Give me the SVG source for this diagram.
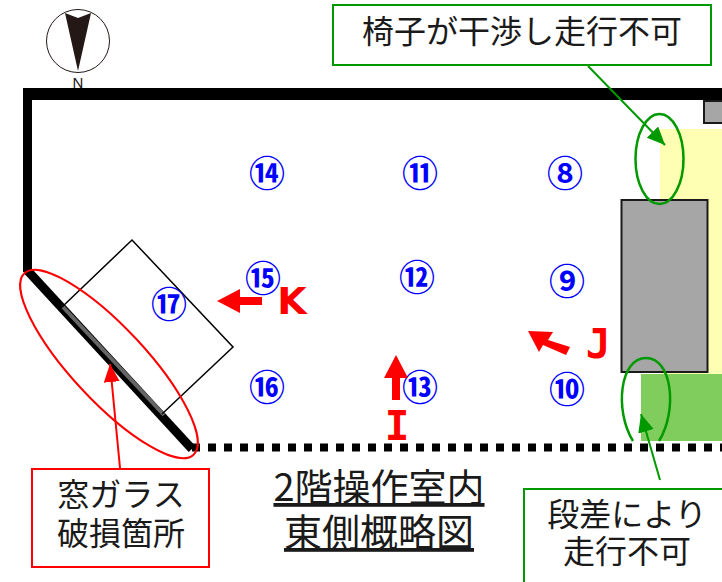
<svg xmlns="http://www.w3.org/2000/svg" width="722" height="582" viewBox="0 0 722 582">
<style>
text{font-family:"Noto Sans CJK JP","Noto Sans",sans-serif;text-anchor:middle}
.n{font-size:36px;font-weight:700;fill:#0000ff}
.t{font-size:32px;fill:#1a1a1a}
.v{font-size:38px;font-weight:700;fill:#ff0000;font-family:"DejaVu Sans",sans-serif}
.m{font-size:41px;font-family:"DejaVu Sans Mono",monospace}
.g{fill:#fff;stroke:#009900;stroke-width:2}
.r{fill:#fff;stroke:#ff0000;stroke-width:2}
.ge{fill:none;stroke:#009900;stroke-width:2.5}
</style>
<defs>
<marker id="ag" markerUnits="userSpaceOnUse" markerWidth="20" markerHeight="20" refX="18" refY="8" orient="auto"><path d="M0 0L18 8L0 16Z" fill="#009900"/></marker>
<marker id="ar" markerUnits="userSpaceOnUse" markerWidth="20" markerHeight="20" refX="18" refY="8" orient="auto"><path d="M0 0L18 8L0 16Z" fill="#ff0000"/></marker>
</defs>
<g id="floor">
<rect x="660" y="129" width="62" height="245" fill="#ffffb3"/>
<rect x="641" y="374" width="81" height="67" fill="#80cc5c"/>
<rect x="621.500" y="200" width="86" height="172" fill="#a6a6a6" stroke="#1a1a1a" stroke-width="2"/>
<rect x="704" y="101" width="20" height="22" fill="#a6a6a6" stroke="#1a1a1a" stroke-width="2"/>
</g>
<g id="walls" fill="none" stroke="#000">
<path d="M27.500 272V88" stroke-width="9"/>
<path d="M23 94H722" stroke-width="12"/>
<path d="M27 270L192 449" stroke-width="9"/>
<path d="M192 447.500H722" stroke-width="8" stroke-dasharray="8 8"/>
<path d="M63 307L164 415" stroke="#666" stroke-width="4"/>
</g>
<g id="n17">
<path d="M62 307L132 240L233 347L162 414" fill="none" stroke="#000" stroke-width="1.500"/>
<text class="n" x="169" y="318">⑰</text>
</g>
<g id="north">
<circle cx="78" cy="41" r="31.500" fill="#fff" stroke="#231815" stroke-width="1"/>
<path d="M65 13L78 18L91 13L78 71Z" fill="#231815"/>
<text x="78" y="88" style="font-size:15px;font-family:'Liberation Sans',sans-serif;fill:#231815">N</text>
</g>
<g id="n14"><text class="n" x="267" y="187">⑭</text></g>
<g id="n11"><text class="n" x="420" y="187">⑪</text></g>
<g id="n8"><text class="n" x="565" y="187">⑧</text></g>
<g id="n15"><text class="n" x="263" y="292">⑮</text></g>
<g id="n12"><text class="n" x="417" y="291">⑫</text></g>
<g id="n9"><text class="n" x="567" y="295">⑨</text></g>
<g id="n16"><text class="n" x="267" y="401">⑯</text></g>
<g id="n13"><text class="n" x="420" y="401">⑬</text></g>
<g id="n10"><text class="n" x="567" y="403">⑩</text></g>
<g id="viewK"><path d="M217 301L240 289V297H262V305H240V313Z" fill="#ff0000"/><text class="v" x="292" y="314">K</text></g>
<g id="viewJ"><path d="M528 331L553 332L548 340L570 347L566 355L543 345L539 352Z" fill="#ff0000"/><text class="v m" x="598" y="358">J</text></g>
<g id="viewI"><path d="M396 355L408 378H400V400H392V378H384Z" fill="#ff0000"/><text class="v m" x="397" y="440">I</text></g>
<g id="callouts">
<ellipse cx="109" cy="364" rx="124" ry="37" transform="rotate(47 109 364)" fill="none" stroke="#ff0000" stroke-width="2"/>
<ellipse class="ge" cx="659.500" cy="159" rx="24" ry="45"/>
<path class="ge" d="M633 441C614 410 620 358 646 358C672 358 678 410 659 441"/>
<path d="M120 468L110 364" stroke="#ff0000" stroke-width="2" marker-end="url(#ar)"/>
<path d="M588 66L665 145" stroke="#009900" stroke-width="2" marker-end="url(#ag)"/>
<path d="M660 480L641 414" stroke="#009900" stroke-width="2" marker-end="url(#ag)"/>
</g>
<g id="note-top"><rect class="g" x="333" y="5" width="378" height="60"/><text class="t" x="522" y="43">椅子が干渉し走行不可</text></g>
<g id="note-window"><rect class="r" x="32" y="469" width="177" height="98"/><text class="t" x="121" y="506">窓ガラス</text><text class="t" x="121" y="545">破損箇所</text></g>
<g id="note-step"><rect class="g" x="524" y="489" width="210" height="110"/><text class="t" x="627" y="526">段差により</text><text class="t" x="627" y="563">走行不可</text></g>
<g id="title"><text x="379" y="501" style="font-size:38px;fill:#1a1a1a;text-decoration:underline">2階操作室内</text><text x="379" y="546" style="font-size:38px;fill:#1a1a1a;text-decoration:underline">東側概略図</text></g>
</svg>
